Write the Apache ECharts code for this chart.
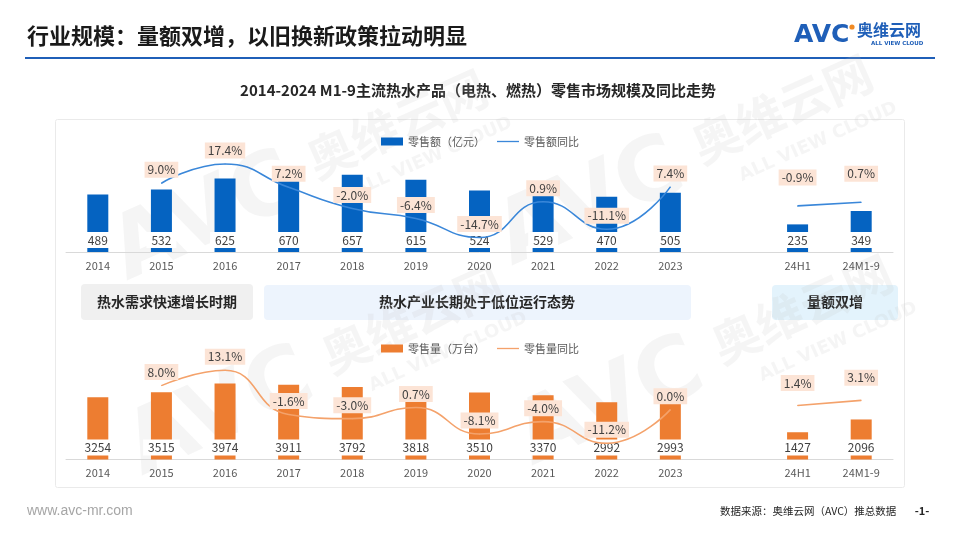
<!DOCTYPE html>
<html><head><meta charset="utf-8">
<script src="https://cdn.jsdelivr.net/npm/echarts@6/dist/echarts.min.js"></script>
<style>html,body{margin:0;padding:0;background:#fff}#c{width:960px;height:540px}</style>
</head><body><div id="c"></div>
<script>
const categories = ['2014','2015','2016','2017','2018','2019','2020','2021','2022','2023','','24H1','24M1-9'];
const salesValue = [489,532,625,670,657,615,524,529,470,505,null,235,349];
const salesValueYoY = [null,9.0,17.4,7.2,-2.0,-6.4,-14.7,0.9,-11.1,7.4,null,null,null];
const salesValueYoYHalf = [null,null,null,null,null,null,null,null,null,null,null,-0.9,0.7];
const salesVolume = [3254,3515,3974,3911,3792,3818,3510,3370,2992,2993,null,1427,2096];
const salesVolumeYoY = [null,8.0,13.1,-1.6,-3.0,0.7,-8.1,-4.0,-11.2,0.0,null,null,null];
const salesVolumeYoYHalf = [null,null,null,null,null,null,null,null,null,null,null,1.4,3.1];
const phaseLabels = ['热水需求快速增长时期','热水产业长期处于低位运行态势','量额双增'];

const FONT = '"Noto Sans CJK SC","Noto Sans",sans-serif';
const BLUE = '#0563C1', BLUE_L = '#3A87D9', ORANGE = '#ED7D31', ORANGE_L = '#F4A26B';
const chart = echarts.init(document.getElementById('c'), null, {renderer:'canvas'});

function pct(p){ return p.value == null ? '' : p.value.toFixed(1) + '%'; }
const lineLabel = (dist) => ({show:true, position:'top', distance:dist, formatter:pct,
  backgroundColor:'#FCE4D6', padding:[2,3], color:'#404040', fontSize:12, fontFamily:FONT});
const barLabel = {show:true, position:'insideBottom', distance:4, color:'#404040', fontSize:12,
  fontFamily:FONT, backgroundColor:'#fff', padding:[2,5], formatter:(p)=>p.value==null?'':String(p.value)};
const xAx = (gi) => ({type:'category', gridIndex:gi, data:categories,
  axisLine:{lineStyle:{color:'#D9D9D9'}}, axisTick:{show:false},
  axisLabel:{color:'#595959', fontSize:11, margin:8, fontFamily:FONT, interval:0}});
const yAx = (gi,min,max) => ({type:'value', gridIndex:gi, min:min, max:max, show:false, splitLine:{show:false}});

function watermark(x,y){
  const c = 'rgba(190,190,190,0.16)';
  return {type:'group', x:x, y:y, rotation:0.42, z:100, silent:true, children:[
    {type:'text', x:0, y:0, style:{text:'AVC', fontSize:88, fontWeight:'bold', fontFamily:'"DejaVu Sans"', fill:c, verticalAlign:'bottom'}},
    {type:'text', x:215, y:-30, style:{text:'奥维云网', fontSize:48, fontWeight:'bold', fontFamily:FONT, fill:c, verticalAlign:'bottom'}},
    {type:'text', x:245, y:0, style:{text:'ALL VIEW CLOUD', fontSize:18, fontWeight:'bold', fontFamily:'"DejaVu Sans"', fill:c, verticalAlign:'bottom'}}
  ]};
}

const option = {
  animation:false,
  textStyle:{fontFamily:FONT},
  grid:[
    {left:66, right:67, top:158, height:94},
    {left:66, right:67, top:364, height:95.5}
  ],
  legend:[
    {top:131, left:'center', itemWidth:22, itemHeight:8, itemGap:12,
     textStyle:{color:'#595959', fontSize:11, fontFamily:FONT},
     data:[{name:'零售额（亿元）', icon:'rect'}, {name:'零售额同比', icon:'path://M0,0 L40,0 L40,2.4 L0,2.4 Z'}]},
    {top:338, left:'center', itemWidth:22, itemHeight:8, itemGap:12,
     textStyle:{color:'#595959', fontSize:11, fontFamily:FONT},
     data:[{name:'零售量（万台）', icon:'rect'}, {name:'零售量同比', icon:'path://M0,0 L40,0 L40,2.4 L0,2.4 Z'}]}
  ],
  xAxis:[xAx(0), xAx(1)],
  yAxis:[yAx(0,0,800), yAx(0,-21,20), yAx(1,0,5000), yAx(1,-16.6,15.2)],
  series:[
    {name:'零售额（亿元）', type:'bar', xAxisIndex:0, yAxisIndex:0, data:salesValue, barWidth:21,
     itemStyle:{color:BLUE}, label:barLabel, z:2},
    {name:'零售额同比', type:'line', xAxisIndex:0, yAxisIndex:1, data:salesValueYoY, smooth:true,
     symbol:'circle', symbolSize:1, itemStyle:{color:BLUE_L}, lineStyle:{color:BLUE_L, width:1.6},
     label:lineLabel(5), z:3},
    {name:'零售额同比', type:'line', xAxisIndex:0, yAxisIndex:1, data:salesValueYoYHalf, smooth:true,
     symbol:'circle', symbolSize:1, itemStyle:{color:BLUE_L}, lineStyle:{color:BLUE_L, width:1.6},
     label:lineLabel(20), z:3},
    {name:'零售量（万台）', type:'bar', xAxisIndex:1, yAxisIndex:2, data:salesVolume, barWidth:21,
     itemStyle:{color:ORANGE}, label:barLabel, z:2},
    {name:'零售量同比', type:'line', xAxisIndex:1, yAxisIndex:3, data:salesVolumeYoY, smooth:true,
     symbol:'circle', symbolSize:1, itemStyle:{color:ORANGE_L}, lineStyle:{color:ORANGE_L, width:1.6},
     label:lineLabel(5), z:3},
    {name:'零售量同比', type:'line', xAxisIndex:1, yAxisIndex:3, data:salesVolumeYoYHalf, smooth:true,
     symbol:'circle', symbolSize:1, itemStyle:{color:ORANGE_L}, lineStyle:{color:ORANGE_L, width:1.6},
     label:lineLabel(14), z:3}
  ],
  graphic:[
    {type:'text', x:27, y:36, style:{text:'行业规模：量额双增，以旧换新政策拉动明显', fontSize:22, fontWeight:'bold', fontFamily:FONT, fill:'#1A1A1A', verticalAlign:'middle'}},
    {type:'rect', shape:{x:25, y:57, width:910, height:2}, style:{fill:'#1F5FB8'}},
    {type:'text', x:794, y:35, style:{text:'AVC', fontSize:25, fontWeight:'bold', fontFamily:'"DejaVu Sans"', fill:'#1F5FB8', verticalAlign:'middle'}},
    {type:'circle', shape:{cx:852, cy:27, r:2.6}, style:{fill:'#F08A24'}},
    {type:'text', x:857, y:30, style:{text:'奥维云网', fontSize:16, fontWeight:'bold', fontFamily:FONT, fill:'#1F5FB8', verticalAlign:'middle'}},
    {type:'text', x:871, y:44, style:{text:'ALL VIEW CLOUD', fontSize:5.5, fontWeight:'bold', fontFamily:'"DejaVu Sans"', fill:'#1F5FB8', verticalAlign:'middle'}},
    {type:'text', x:478, y:90, style:{text:'2014-2024 M1-9主流热水产品（电热、燃热）零售市场规模及同比走势', fontSize:15, fontWeight:'bold', fontFamily:FONT, fill:'#262626', align:'center', verticalAlign:'middle'}},
    {type:'rect', z:-10, shape:{x:55.5, y:119.5, width:849, height:368, r:2}, style:{fill:'none', stroke:'#EAEAEA', lineWidth:1}},
    {type:'rect', shape:{x:81, y:284, width:172, height:36, r:4}, style:{fill:'#F0F0F0'}},
    {type:'rect', shape:{x:264, y:285, width:427, height:35, r:4}, style:{fill:'#EDF4FD'}},
    {type:'rect', shape:{x:772, y:285, width:126, height:35, r:4}, style:{fill:'#E3F3FC'}},
    {type:'text', x:167, y:302, style:{text:phaseLabels[0], fontSize:14, fontWeight:'bold', fontFamily:FONT, fill:'#262626', align:'center', verticalAlign:'middle'}},
    {type:'text', x:477, y:302, style:{text:phaseLabels[1], fontSize:14, fontWeight:'bold', fontFamily:FONT, fill:'#262626', align:'center', verticalAlign:'middle'}},
    {type:'text', x:835, y:302, style:{text:phaseLabels[2], fontSize:14, fontWeight:'bold', fontFamily:FONT, fill:'#262626', align:'center', verticalAlign:'middle'}},
    {type:'text', x:27, y:511, style:{text:'www.avc-mr.com', fontSize:14, fontFamily:'"Liberation Sans",sans-serif', fill:'#A6A6A6', verticalAlign:'middle'}},
    {type:'text', x:720, y:511, style:{text:'数据来源：奥维云网（AVC）推总数据', fontSize:10.5, fontFamily:FONT, fill:'#262626', verticalAlign:'middle'}},
    {type:'text', x:922, y:511, style:{text:'-1-', fontSize:11, fontWeight:'bold', fontFamily:FONT, fill:'#262626', align:'center', verticalAlign:'middle'}},
    watermark(135,300), watermark(520,285), watermark(150,495), watermark(540,485)
  ]
};
chart.setOption(option);
</script></body></html>
